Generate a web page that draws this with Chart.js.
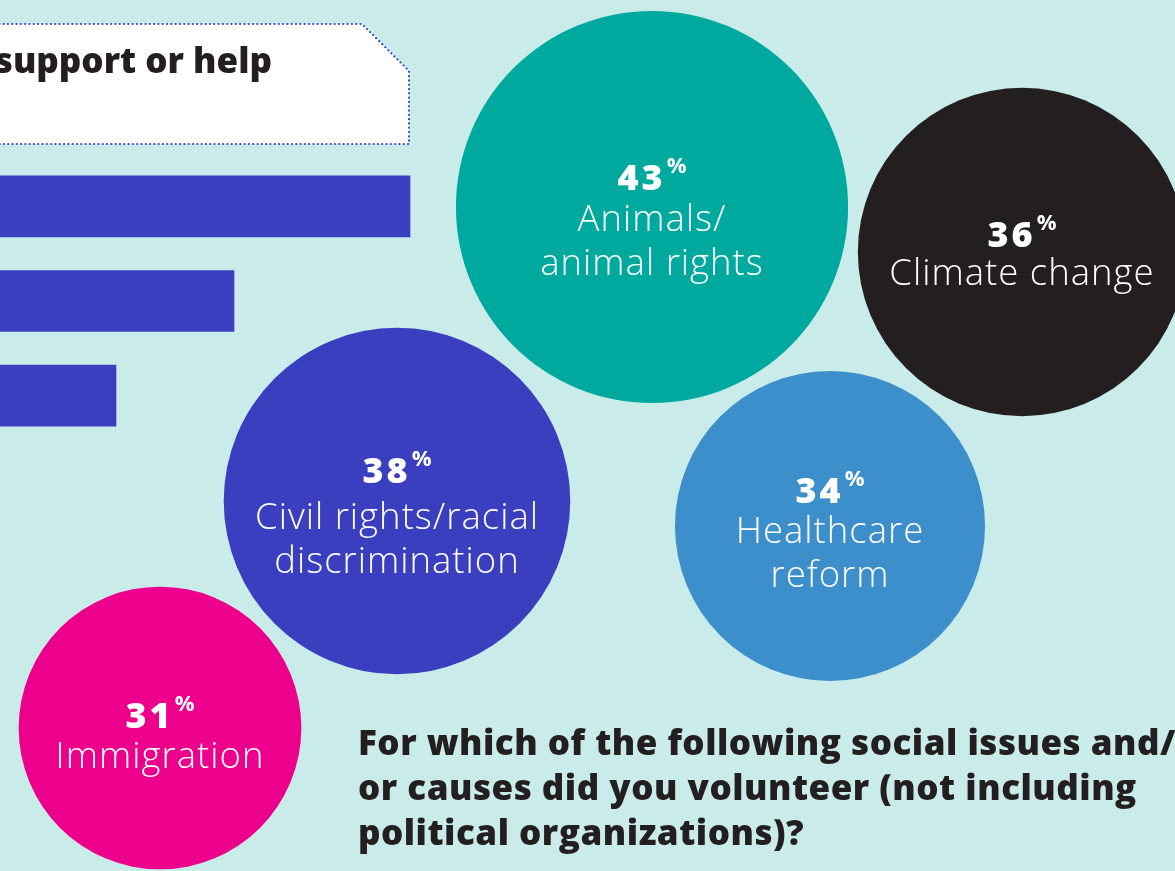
<!DOCTYPE html>
<html>
<head>
<meta charset="utf-8">
<title>Social issues and causes volunteered for</title>
<script src="https://cdn.jsdelivr.net/npm/chart.js@4.4.1/dist/chart.umd.min.js"></script>
<style>
  html, body { margin: 0; padding: 0; }
  body {
    width: 1175px; height: 871px; overflow: hidden; position: relative;
    background: #c9ecea; font-family: "Open Sans", Lato, sans-serif;
  }
  #barWrap { position: absolute; left: 0; top: 159px; width: 440px; height: 284px; }
  #bubbleWrap { position: absolute; left: 0; top: 0; width: 1175px; height: 871px; }
  #headBox { position: absolute; left: 0; top: 0; }
  #headText {
    position: absolute; right: calc(1175px - 272px); top: 37px;
    font: 800 35px "Open Sans", Lato, sans-serif; color: #231f20; white-space: nowrap; line-height: 46px;
    letter-spacing: 0px;
  }
  #question {
    position: absolute; left: 358px; top: 719px;
    font: 800 35px "Open Sans", Lato, sans-serif; color: #231f20; line-height: 45px; white-space: nowrap;
    letter-spacing: 0.5px;
  }
</style>
</head>
<body>
<div id="barWrap"><canvas id="barCanvas"></canvas></div>

<svg id="headBox" width="420" height="160" viewBox="0 0 420 160">
  <path d="M -5 24 L 362 24 L 409 71 L 409 144 L -5 144 Z"
        fill="#ffffff" stroke="#3a3fc0" stroke-width="2.2"
        stroke-linecap="round" stroke-dasharray="0 4.3"/>
</svg>
<div id="headText">support or help</div>

<div id="bubbleWrap"><canvas id="bubbleCanvas"></canvas></div>

<div id="question">For which of the following social issues and/<br>or causes did you volunteer (not including<br>political organizations)?</div>

<script>
// ---- Data -------------------------------------------------------------
const issueLabels = [
  ['Animals/', 'animal rights'],
  ['Climate change'],
  ['Civil rights/racial', 'discrimination'],
  ['Healthcare', 'reform'],
  ['Immigration']
];
const volunteerPct = [43, 36, 38, 34, 31];

// Bars continuing from the neighbouring panel (their labels sit off the left edge)
const supportBarLabels = ['', ' ', '  '];
const supportBarValues = [41, 23.4, 11.6];

// ---- Layout & style ---------------------------------------------------
const bubbleCenters = [[652, 207], [1022, 252], [397, 501], [830, 526], [160, 728]];
const numberBaselineShift = [-17, -5, -18, -23, 0];   // from bubble centre
const labelGap = [41, 38, 46, 40, 40];                // number baseline -> first label baseline
const LABEL_LINE_HEIGHT = 44;
const bubbleColors = ['#00a99d', '#231f20', '#3a3fc0', '#3d8fcb', '#ec008c'];
const RADIUS_PER_POINT = 4.56;   // bubble radius in px for each percentage point
const INK = '#ffffff';
const NUM_FONT = '800 36px "Open Sans", Lato, sans-serif';
const PCT_FONT = '700 22px "Open Sans", Lato, sans-serif';
const LABEL_FONT = '300 36.5px "Open Sans", Lato, sans-serif';

// ---- Bar chart --------------------------------------------------------
new Chart(document.getElementById('barCanvas'), {
  type: 'bar',
  data: {
    labels: supportBarLabels,
    datasets: [{
      data: supportBarValues,
      backgroundColor: '#3a3fc0',
      barThickness: 61,
      borderWidth: 0
    }]
  },
  options: {
    indexAxis: 'y',
    responsive: true,
    maintainAspectRatio: false,
    animation: false,
    events: [],
    layout: { padding: 0, autoPadding: false },
    plugins: { legend: { display: false }, tooltip: { enabled: false } },
    scales: {
      x: { display: false, min: 0, max: 44 },
      y: { display: false }
    }
  }
});

// ---- Bubble labels ----------------------------------------------------
const bubbleLabelPlugin = {
  id: 'bubbleLabels',
  afterDatasetsDraw(chart) {
    const ctx = chart.ctx;
    const meta = chart.getDatasetMeta(0);
    ctx.save();
    ctx.fillStyle = INK;
    ctx.textBaseline = 'alphabetic';
    meta.data.forEach((pt, i) => {
      const { x, y } = pt.getProps(['x', 'y'], true);
      const lines = issueLabels[i];
      const numBase = y + numberBaselineShift[i];

      const numStr = String(volunteerPct[i]);
      ctx.letterSpacing = '3px';
      ctx.font = NUM_FONT;
      const wNum = ctx.measureText(numStr).width;
      ctx.letterSpacing = '0px';
      ctx.font = PCT_FONT;
      const wPct = ctx.measureText('%').width;
      const gap = 1;
      const x0 = x - (wNum + gap + wPct) / 2;

      ctx.textAlign = 'left';
      ctx.letterSpacing = '3px';
      ctx.font = NUM_FONT;
      ctx.fillText(numStr, x0, numBase);
      ctx.letterSpacing = '0px';
      ctx.font = PCT_FONT;
      ctx.fillText('%', x0 + wNum + gap, numBase - 17);

      ctx.textAlign = 'center';
      ctx.letterSpacing = '1px';
      ctx.font = LABEL_FONT;
      lines.forEach((line, j) => {
        ctx.fillText(line, x, numBase + labelGap[i] + j * LABEL_LINE_HEIGHT);
      });
      ctx.letterSpacing = '0px';
    });
    ctx.restore();
  }
};

// ---- Bubble chart -----------------------------------------------------
new Chart(document.getElementById('bubbleCanvas'), {
  type: 'bubble',
  data: {
    datasets: [{
      data: volunteerPct.map((v, i) => ({
        x: bubbleCenters[i][0],
        y: bubbleCenters[i][1],
        r: v * RADIUS_PER_POINT
      })),
      backgroundColor: bubbleColors,
      borderWidth: 0,
      hoverRadius: 0,
      clip: false
    }]
  },
  options: {
    responsive: true,
    maintainAspectRatio: false,
    animation: false,
    events: [],
    layout: { padding: 0, autoPadding: false },
    plugins: { legend: { display: false }, tooltip: { enabled: false } },
    scales: {
      x: { display: false, min: 0, max: 1175 },
      y: { display: false, min: 0, max: 871, reverse: true }
    }
  },
  plugins: [bubbleLabelPlugin]
});
</script>
</body>
</html>
